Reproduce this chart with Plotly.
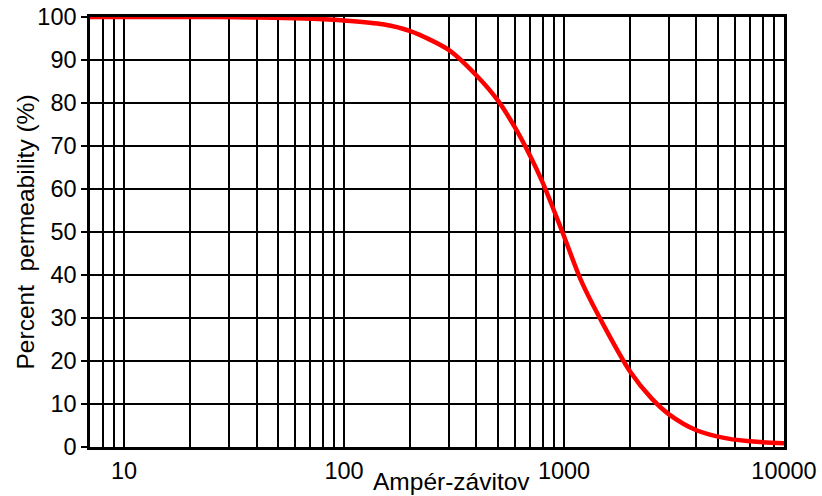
import plotly.graph_objects as go

# Data
ampere_turns = [7, 20, 40, 60, 80, 100, 150, 200, 300, 400, 500, 600, 700, 800,
                900, 1000, 1200, 1500, 2000, 2500, 3000, 4000, 5500, 7500, 10000]
permeability = [100, 100, 99.9, 99.7, 99.5, 99.2, 98.3, 96.7, 92.3, 86.4, 80.6,
                74.2, 67.8, 61.5, 55.0, 49.0, 38.5, 28.7, 17.5, 11.3, 7.6, 3.9,
                2.0, 1.2, 0.9]

x_tickvals = [7, 8, 9, 10, 20, 30, 40, 50, 60, 70, 80, 90, 100, 200, 300, 400,
              500, 600, 700, 800, 900, 1000, 2000, 3000, 4000, 5000, 6000, 7000,
              8000, 9000, 10000]
x_ticktext = ["", "", "", "10", "", "", "", "", "", "", "", "", "100", "", "",
              "", "", "", "", "", "", "1000", "", "", "", "", "", "", "", "",
              "10000"]
y_tickvals = [0, 10, 20, 30, 40, 50, 60, 70, 80, 90, 100]

x_title = "Ampér-závitov"
y_title = "Percent  permeability (%)"

font_family = "Arial, Liberation Sans, sans-serif"

W, H = 822, 496
ml, mr, mt, mb = 90, 38, 17, 49
pw, ph = W - ml - mr, H - mt - mb


def px_to_paper(px, py):
    return (px - ml) / pw, 1 - (py - mt) / ph


fig = go.Figure()
fig.add_trace(go.Scatter(
    x=ampere_turns, y=permeability, mode="lines",
    line=dict(color="#ff0000", width=4.5, shape="spline", smoothing=0.8),
    hoverinfo="x+y", showlegend=False,
))

ax_x, ax_y = px_to_paper(451, 482)
ay_x, ay_y = px_to_paper(24.5, 232)

fig.update_layout(
    width=W, height=H,
    margin=dict(l=ml, r=mr, t=mt, b=mb, autoexpand=False),
    paper_bgcolor="white", plot_bgcolor="white",
    font=dict(family=font_family, size=23.5, color="black"),
    xaxis=dict(
        type="log", range=[0.845098, 4.0],
        tickvals=x_tickvals, ticktext=x_ticktext,
        showgrid=True, gridcolor="black", gridwidth=1.6,
        showline=True, linecolor="black", linewidth=2.5, mirror=True,
        ticks="", ticklabelstandoff=1, automargin=False,
        ticklabeloverflow="allow",
        tickfont=dict(size=23.5), zeroline=False,
    ),
    yaxis=dict(
        range=[0, 100], tickvals=y_tickvals,
        showgrid=True, gridcolor="black", gridwidth=1.6,
        showline=True, linecolor="black", linewidth=2.5, mirror=True,
        ticks="outside", ticklen=6, tickwidth=1.6, tickcolor="black",
        automargin=False, ticklabeloverflow="allow",
        tickfont=dict(size=23.5), zeroline=False,
    ),
    annotations=[
        dict(text=x_title, x=ax_x, y=ax_y, xref="paper", yref="paper",
             xanchor="center", yanchor="middle",
             showarrow=False, font=dict(size=24.5)),
        dict(text=y_title, x=ay_x, y=ay_y, xref="paper", yref="paper",
             xanchor="center", yanchor="middle",
             showarrow=False, textangle=-90, font=dict(size=24.5)),
    ],
)

# remove the default 8px page margin so the figure fills the window exactly
fig.write_html(
    "out.html",
    config={"displayModeBar": False},
    post_script="document.body.style.margin='0';document.body.style.overflow='hidden';",
)
